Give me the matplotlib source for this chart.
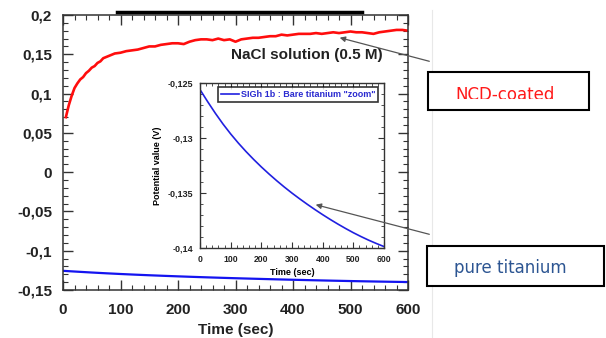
import matplotlib
matplotlib.use("Agg")
import matplotlib.pyplot as plt
from matplotlib.ticker import MultipleLocator, FuncFormatter
from matplotlib.patches import Rectangle, FancyArrowPatch
from matplotlib.lines import Line2D

plt.rcParams['font.family'] = ['Liberation Sans', 'DejaVu Sans']

# NCD-coated (red) potential vs time
ncd_time = [5, 10, 15, 20, 25, 30, 35, 40, 45, 50, 55, 60, 65, 70, 80, 90, 100, 110, 120,
            130, 140, 150, 160, 170, 180, 190, 200, 210, 220, 230, 240, 250, 260, 270, 280,
            290, 300, 310, 320, 330, 340, 350, 360, 370, 380, 390, 400, 410, 420, 430, 440,
            450, 460, 470, 480, 490, 500, 510, 520, 530, 540, 550, 560, 570, 580, 590, 600]
ncd_value = [0.070, 0.085, 0.097, 0.107, 0.113, 0.118, 0.121, 0.126, 0.129, 0.133, 0.135,
             0.139, 0.141, 0.145, 0.148, 0.151, 0.152, 0.154, 0.155, 0.156, 0.158, 0.160,
             0.160, 0.162, 0.163, 0.164, 0.164, 0.163, 0.166, 0.168, 0.169, 0.169, 0.168,
             0.170, 0.168, 0.169, 0.166, 0.169, 0.170, 0.171, 0.171, 0.172, 0.173, 0.173,
             0.175, 0.174, 0.175, 0.176, 0.176, 0.176, 0.177, 0.176, 0.177, 0.178, 0.177,
             0.178, 0.179, 0.178, 0.178, 0.177, 0.176, 0.178, 0.179, 0.180, 0.181, 0.181, 0.180]

# Bare titanium (blue) potential vs time
ti_time = [0, 25, 50, 75, 100, 125, 150, 175, 200, 225, 250, 275, 300, 325, 350, 375,
           400, 425, 450, 475, 500, 525, 550, 575, 600]
ti_value = [-0.12560, -0.12670, -0.12775, -0.12873, -0.12963, -0.13046, -0.13123,
            -0.13195, -0.13263, -0.13327, -0.13388, -0.13446, -0.13501, -0.13553,
            -0.13603, -0.13651, -0.13697, -0.13741, -0.13783, -0.13823, -0.13861,
            -0.13896, -0.13929, -0.13959, -0.13987]

main_xticks = [0, 100, 200, 300, 400, 500, 600]
main_yticks = [-0.15, -0.1, -0.05, 0, 0.05, 0.1, 0.15, 0.2]
inset_yticks = [-0.14, -0.135, -0.13, -0.125]

title_text = "NaCl solution (0.5 M)"
legend_text = 'SIGh 1b : Bare titanium "zoom"'
label_ncd = "NCD-coated"
label_ti = "pure titanium"


def comma_fmt(v, pos):
    s = ("%g" % round(v, 4))
    return s.replace('.', ',')


fig = plt.figure(figsize=(6.06, 3.38), dpi=100)
W, H = 606, 338

def fx(px):
    return px / W

def fy(py):
    return 1 - py / H

ax = fig.add_axes([fx(63), fy(290), fx(408) - fx(63), fy(15) - fy(290)])
ax.plot(ncd_time, ncd_value, color='#ff0d0d', lw=1.9)
ax.plot(ti_time, ti_value, color='#1414f0', lw=1.6)
ax.set_xlim(0, 600)
ax.set_ylim(-0.15, 0.2)
ax.set_xticks(main_xticks)
ax.set_yticks(main_yticks)
ax.xaxis.set_minor_locator(MultipleLocator(20))
ax.yaxis.set_minor_locator(MultipleLocator(0.01))
ax.yaxis.set_major_formatter(FuncFormatter(comma_fmt))
ax.tick_params(which='both', direction='in', top=True, right=True, color='#333333')
ax.tick_params(which='major', length=7, width=1)
ax.tick_params(which='minor', length=3.5, width=0.8)
ax.tick_params(axis='y', labelsize=11, pad=8)
ax.tick_params(axis='x', labelsize=11, pad=9)
for lab in ax.get_xticklabels() + ax.get_yticklabels():
    lab.set_fontweight('bold')
    lab.set_color('#222222')
for sp in ax.spines.values():
    sp.set_color('#333333')
    sp.set_linewidth(1.1)
ax.set_xlabel("Time (sec)", fontsize=11, fontweight='bold', color='#222222', labelpad=5)

ax.text(0.706, 0.853, title_text, transform=ax.transAxes, ha='center', va='center',
        fontsize=11, fontweight='bold', color='#222222')

# Inset
ins = fig.add_axes([fx(200), fy(248), fx(384) - fx(200), fy(83) - fy(248)])
ins.plot(ti_time, ti_value, color='#2020e0', lw=1.2)
ins.set_xlim(0, 600)
ins.set_ylim(-0.14, -0.125)
ins.set_xticks(main_xticks)
ins.set_yticks(inset_yticks)
ins.xaxis.set_minor_locator(MultipleLocator(20))
ins.yaxis.set_minor_locator(MultipleLocator(0.001))
ins.yaxis.set_major_formatter(FuncFormatter(comma_fmt))
ins.tick_params(which='both', direction='in', top=True, right=True, color='#333333')
ins.tick_params(which='major', length=4, width=0.8)
ins.tick_params(which='minor', length=2, width=0.6)
ins.tick_params(axis='y', labelsize=6.5, pad=5)
ins.tick_params(axis='x', labelsize=6.2, pad=5)
for lab in ins.get_xticklabels() + ins.get_yticklabels():
    lab.set_fontweight('bold')
    lab.set_color('#222222')
for sp in ins.spines.values():
    sp.set_color('#333333')
    sp.set_linewidth(1.0)
ins.set_xlabel("Time (sec)", fontsize=6.5, fontweight='bold', labelpad=3)
ins.set_ylabel("Potential value (V)", fontsize=6.5, fontweight='bold', labelpad=4)
leg = ins.legend([Line2D([], [], color='#2020e0', lw=1.2)], [legend_text],
                 loc='upper right', bbox_to_anchor=(0.97, 0.975), fontsize=6.5,
                 frameon=True, fancybox=False, handlelength=2.0, handletextpad=0.3,
                 borderpad=0.3, borderaxespad=0)
leg.get_frame().set_edgecolor('black')
leg.get_frame().set_linewidth(1.2)
for t in leg.get_texts():
    t.set_color('#2a2ad0')
    t.set_fontweight('bold')

# Decorations on figure level
fig.add_artist(Line2D([fx(117), fx(362)], [fy(11.5), fy(11.5)], color='black', lw=2.5))
fig.add_artist(Line2D([fx(432), fx(432)], [fy(10), fy(338)], color='#e8e8e8', lw=0.8,
                      zorder=0))

# Label boxes
r1 = Rectangle((fx(428), fy(110)), fx(589) - fx(428), fy(72) - fy(110),
               fill=True, facecolor='white', edgecolor='black', lw=1.5, zorder=5)
fig.add_artist(r1)
t1 = fig.text(fx(505), fy(95), label_ncd, ha='center', va='center', fontsize=12,
              color='#ff1a1a', family=['DejaVu Sans'], zorder=6)
clip1 = Rectangle((fx(428), fy(98.5)), fx(589) - fx(428), fy(72) - fy(98.5),
                  transform=fig.transFigure, visible=False)
fig.add_artist(clip1)
t1.set_clip_path(clip1)
r2 = Rectangle((fx(427), fy(286)), fx(604) - fx(427), fy(246) - fy(286),
               fill=True, facecolor='white', edgecolor='black', lw=1.5, zorder=5)
fig.add_artist(r2)
fig.text(fx(510), fy(268), label_ti, ha='center', va='center', fontsize=12,
         color='#2c5592', family=['DejaVu Sans'], zorder=6)

# Arrows
fig.add_artist(FancyArrowPatch(
    (fx(432), fy(62)), (fx(337), fy(37)), transform=fig.transFigure,
    arrowstyle='-|>', mutation_scale=8, color='#555555', lw=0.9, zorder=7))
fig.add_artist(FancyArrowPatch(
    (fx(432), fy(235)), (fx(313), fy(204)), transform=fig.transFigure,
    arrowstyle='-|>', mutation_scale=8, color='#555555', lw=0.9, zorder=7))

fig.savefig("out.png", dpi=100)
